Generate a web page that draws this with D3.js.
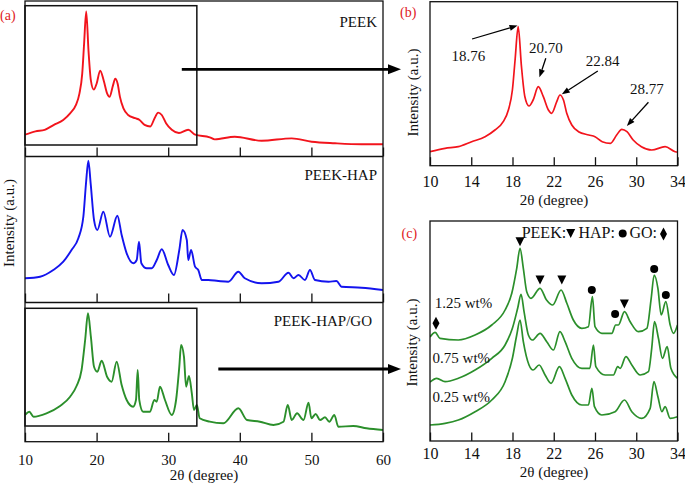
<!DOCTYPE html>
<html><head><meta charset="utf-8">
<script src="https://cdn.jsdelivr.net/npm/d3@7/dist/d3.min.js"></script>
<style>
body{margin:0;background:#fff}
svg{display:block}
</style>
</head><body>
<svg id="c" width="685" height="485"></svg>
<script>
// ---------------- data (2θ in degrees, intensity in arbitrary units) ----------------
const peek = [[10,143],[11.46,177],[12.75,193],[14.04,243],[15.34,293],[16.3,360],[17.1,443],[17.6,560],[17.99,760],[18.25,1060],[18.55,1393],[18.87,993],[19.2,693],[19.6,600],[20.0,660],[20.5,793],[20.99,693],[21.48,560],[21.8,527],[22.29,643],[22.6,710],[22.94,660],[23.26,527],[23.75,410],[24.4,343],[25.4,310],[26.0,293],[26.7,243],[27.5,227],[28.1,310],[28.6,367],[29.1,343],[29.7,260],[30.5,193],[31.5,160],[32.8,193],[33.77,143],[35.8,117],[36.5,96],[39.3,123],[43.06,82],[47.25,106],[50.04,72],[53.3,56],[57.0,46],[60,46]];
const peekHap = [[10,167],[12.1,183],[13.95,250],[15.35,333],[16.5,450],[17.45,567],[18.15,783],[18.52,1117],[18.85,1343],[19.17,1117],[19.64,750],[20.1,650],[20.94,833],[21.87,583],[22.9,793],[23.5,600],[24.2,417],[25.13,317],[25.6,350],[25.92,533],[26.25,317],[27.0,267],[27.7,267],[28.4,350],[29.1,457],[30.0,300],[30.8,200],[31.55,450],[32.0,650],[32.6,550],[32.8,350],[33.2,450],[33.75,283],[34.2,250],[34.7,150],[35.6,150],[37.0,140],[38.4,133],[39.8,233],[40.7,167],[43.06,117],[45.4,133],[46.8,223],[47.5,167],[48.2,200],[49.1,150],[49.8,250],[50.5,150],[52.4,133],[53.5,140],[54.2,83],[57.0,73],[60,50]];
const peekHapGo = [[10,200],[10.6,233],[11.2,183],[13.0,217],[14.9,290],[16.3,383],[17.2,490],[17.9,650],[18.4,950],[18.8,1217],[19.2,983],[19.64,683],[20.1,633],[20.7,743],[21.5,577],[22.1,533],[22.8,733],[23.5,500],[24.2,350],[25.1,283],[25.5,350],[25.74,650],[25.96,350],[26.5,233],[27.46,233],[28.06,350],[28.4,333],[28.85,483],[29.55,350],[30.5,200],[31.1,350],[31.55,683],[31.8,900],[32.2,783],[32.5,483],[32.9,590],[33.3,417],[33.6,250],[34.0,300],[34.4,167],[35.8,133],[37.7,117],[39.8,267],[41.0,150],[42.8,133],[44.7,100],[46.1,133],[46.7,300],[47.25,150],[48.0,217],[48.9,150],[49.6,323],[50.0,167],[50.6,210],[51.2,150],[51.9,177],[52.5,133],[53.2,200],[53.76,83],[55.85,90],[57.7,67],[60,50]];
const go125 = [[10,1040],[10.5,1087],[10.97,1027],[12.75,1010],[14.37,1060],[15.99,1160],[17.28,1310],[17.93,1477],[18.41,1727],[18.73,1927],[19.05,1727],[19.38,1493],[19.8,1427],[20.67,1527],[21.3,1410],[21.9,1360],[22.71,1510],[23.27,1377],[23.9,1210],[24.72,1127],[25.36,1143],[25.75,1443],[26.0,1143],[26.66,1077],[27.63,1077],[28.0,1160],[28.27,1160],[28.86,1293],[29.41,1193],[30.2,1093],[31.03,1127],[31.45,1427],[31.74,1660],[32.1,1527],[32.42,1260],[32.87,1393],[33.29,1160],[33.61,1077],[34.0,1160]];
const go075 = [[10,590],[10.65,627],[11.46,593],[12.75,627],[14.37,710],[15.99,827],[17.28,960],[17.99,1127],[18.5,1327],[18.83,1467],[19.12,1293],[19.54,1060],[19.93,1010],[20.67,1077],[21.32,993],[21.97,910],[22.6,1093],[23.1,993],[23.75,827],[24.72,727],[25.5,727],[25.85,960],[26.08,743],[26.98,660],[27.79,660],[28.2,743],[28.44,727],[29.0,843],[29.57,760],[30.38,660],[31.18,693],[31.5,927],[31.77,1193],[32.15,1027],[32.54,827],[33.0,943],[33.36,727],[34.0,627]];
const go025 = [[10,160],[11.46,177],[12.75,210],[14.37,293],[15.99,410],[17.28,593],[17.99,827],[18.41,1060],[18.73,1210],[19.05,993],[19.6,760],[20.0,710],[20.58,760],[21.16,660],[21.74,577],[22.55,743],[23.1,627],[23.75,460],[24.72,360],[25.36,360],[25.7,527],[25.95,343],[26.66,260],[27.95,293],[28.86,410],[29.57,293],[30.54,227],[31.35,327],[31.71,593],[32.1,443],[32.49,293],[32.8,343],[33.29,227],[34.0,243]];
const ticksA = [10,20,30,40,50,60];
const ticksBC = [10,14,18,22,26,30,34];
const peakLabels = [
  {text:"18.76", tx:13.71, ty:1050, x1:14.08, y1:1270, x2:18.49, y2:1405},
  {text:"20.70", tx:21.24, ty:1133, x1:21.23, y1:1077, x2:20.61, y2:887},
  {text:"22.84", tx:26.74, ty:1003, x1:26.27, y1:950,  x2:22.78, y2:717},
  {text:"28.77", tx:31.03, ty:717,  x1:31.18, y1:637,  x2:29.09, y2:400}
];
const sampleLabels = [["1.25 wt%",10.45,1330],["0.75 wt%",10.25,785],["0.25 wt%",10.25,393]];
const markers = [
  {t:"d",x:10.58,y:1177},{t:"v",x:18.73,y:1993},{t:"v",x:20.67,y:1610},{t:"v",x:22.78,y:1610},
  {t:"o",x:25.69,y:1510},{t:"o",x:27.95,y:1270},{t:"v",x:28.85,y:1370},{t:"o",x:31.74,y:1720},{t:"o",x:32.87,y:1460}
];

// ---------------- drawing ----------------
const RED="#f2141c", BLUE="#1414ee", GREEN="#2b8f2b", RLAB="#e0201e";
const FONT = "'Liberation Serif', 'Times New Roman', Times, 'DejaVu Serif', serif";
const svg = d3.select("#c");
const defs = svg.append("defs");

const triDown = (w,h)=>`M${-w/2},${-h/2}L${w/2},${-h/2}L0,${h/2}Z`;
const diamond = (w,h)=>`M0,${-h/2}L${w/2},0L0,${h/2}L${-w/2},0Z`;

function clip(id,x,y,w,h){defs.append("clipPath").attr("id",id).append("rect").attr("x",x).attr("y",y).attr("width",w).attr("height",h);}
function curve(g,data,x,y,color,id,sw){
  g.append("path").datum(data).attr("clip-path",`url(#${id})`)
   .attr("fill","none").attr("stroke",color).attr("stroke-width",sw).attr("stroke-linejoin","round")
   .attr("d",d3.line().x(d=>x(d[0])).y(d=>y(d[1])).curve(d3.curveMonotoneX));
}
function bigArrow(x1,x2,y){
  svg.append("line").attr("x1",x1).attr("x2",x2-10).attr("y1",y).attr("y2",y).attr("stroke","#000").attr("stroke-width",2.8);
  svg.append("path").attr("d",`M${x2},${y}L${x2-13},${y-5}L${x2-13},${y+5}Z`).attr("fill","#000");
}
function thinArrow(g,x1,y1,x2,y2){
  const a=Math.atan2(y2-y1,x2-x1), L=8, W=3;
  const bx=x2-L*Math.cos(a), by=y2-L*Math.sin(a);
  g.append("line").attr("x1",x1).attr("y1",y1).attr("x2",bx).attr("y2",by).attr("stroke","#000").attr("stroke-width",1.3);
  g.append("path").attr("fill","#000")
   .attr("d",`M${x2},${y2}L${bx+W*Math.sin(a)},${by-W*Math.cos(a)}L${bx-W*Math.sin(a)},${by+W*Math.cos(a)}Z`);
}
function styleAxis(g,fs){
  g.selectAll(".domain").remove();
  g.selectAll(".tick line").attr("stroke","#111").attr("stroke-width",1.3);
  g.selectAll(".tick text").attr("font-size",fs).attr("fill","#111");
}

// ===== panel (a) =====
const ax = d3.scaleLinear().domain([10,60]).range([25,383]);
const rows = [
  {data:peek, color:RED, y:d3.scaleLinear().domain([-78,1499]).range([156.5,1]), name:"PEEK", lx:377, ly:27},
  {data:peekHap, color:BLUE, y:d3.scaleLinear().domain([-75,1385]).range([302.5,156.5]), name:"PEEK-HAP", lx:377, ly:180},
  {data:peekHapGo, color:GREEN, y:d3.scaleLinear().domain([-67,1325]).range([441.7,302.5]), name:"PEEK-HAP/GO", lx:372, ly:326}
];
const gA = svg.append("g");
rows.forEach((r,i)=>{
  const [yb,yt]=r.y.range();
  clip("ca"+i,ax(10),yt,ax(60)-ax(10),yb-yt);
  curve(gA,r.data,ax,r.y,r.color,"ca"+i,1.9);
  const axis=d3.axisBottom(ax).tickValues(ticksA).tickSizeInner(-9).tickSizeOuter(0).tickPadding(12.6);
  if(i<2) axis.tickFormat("");
  const g=gA.append("g").attr("transform",`translate(0,${yb})`).call(axis);
  styleAxis(g,15);
  gA.append("text").attr("x",r.lx).attr("y",r.ly).attr("text-anchor","end").attr("font-size",15).text(r.name);
});
gA.append("line").attr("x1",25).attr("x2",383).attr("y1",156.5).attr("y2",156.5).attr("stroke","#111").attr("stroke-width",1.3);
gA.append("line").attr("x1",25).attr("x2",383).attr("y1",302.5).attr("y2",302.5).attr("stroke","#111").attr("stroke-width",1.3);
gA.append("rect").attr("x",25).attr("y",1).attr("width",358).attr("height",440.7).attr("fill","none").attr("stroke","#111").attr("stroke-width",1.3);
gA.append("rect").attr("x",ax(10)).attr("y",5.7).attr("width",ax(34)-ax(10)).attr("height",139.3).attr("fill","none").attr("stroke","#111").attr("stroke-width",1.5);
gA.append("rect").attr("x",ax(10)).attr("y",308.3).attr("width",ax(34)-ax(10)).attr("height",117.7).attr("fill","none").attr("stroke","#111").attr("stroke-width",1.5);
gA.append("text").attr("x",ax(35)).attr("y",480).attr("text-anchor","middle").attr("font-size",15).text("2θ (degree)");
gA.append("text").attr("transform","translate(13.5,223) rotate(-90)").attr("text-anchor","middle").attr("font-size",15).text("Intensity (a.u.)");
svg.append("text").attr("x",0).attr("y",20).attr("font-size",14).attr("class","red").text("(a)");

// ===== panel (b) =====
const bx = d3.scaleLinear().domain([10,34]).range([430,677.5]);
const by = d3.scaleLinear().domain([0,1640]).range([166,2]);
const gB = svg.append("g");
clip("cb",430,1.7,247.5,164);
curve(gB,peek,bx,by,RED,"cb",1.7);
const axB=gB.append("g").attr("transform","translate(0,165.7)")
  .call(d3.axisBottom(bx).tickValues(ticksBC).tickSizeInner(-8.5).tickSizeOuter(0).tickPadding(10.2));
styleAxis(axB,16);
gB.append("rect").attr("x",430).attr("y",1.7).attr("width",247.5).attr("height",164).attr("fill","none").attr("stroke","#111").attr("stroke-width",1.3);
peakLabels.forEach(p=>{
  gB.append("text").attr("x",bx(p.tx)).attr("y",by(p.ty)).attr("text-anchor","middle").attr("font-size",15).text(p.text);
  thinArrow(gB,bx(p.x1),by(p.y1),bx(p.x2),by(p.y2));
});
gB.append("text").attr("x",554).attr("y",205).attr("text-anchor","middle").attr("font-size",15).text("2θ (degree)");
gB.append("text").attr("transform","translate(417.5,92.5) rotate(-90)").attr("text-anchor","middle").attr("font-size",15).text("Intensity (a.u.)");
svg.append("text").attr("x",400).attr("y",17).attr("font-size",14).attr("class","red").text("(b)");

// ===== panel (c) =====
const cx = d3.scaleLinear().domain([10,34]).range([430,677.5]);
const cy = d3.scaleLinear().domain([0,2200]).range([441,221]);
const gC = svg.append("g");
clip("cc",430,221,247.5,220);
[go125,go075,go025].forEach(s=>curve(gC,s,cx,cy,GREEN,"cc",1.7));
const axC=gC.append("g").attr("transform","translate(0,441)")
  .call(d3.axisBottom(cx).tickValues(ticksBC).tickSizeInner(-8.5).tickSizeOuter(0).tickPadding(6.2));
styleAxis(axC,16);
gC.append("rect").attr("x",430).attr("y",221).attr("width",247.5).attr("height",220).attr("fill","none").attr("stroke","#111").attr("stroke-width",1.3);
sampleLabels.forEach(s=>gC.append("text").attr("x",cx(s[1])).attr("y",cy(s[2])).attr("font-size",15).text(s[0]));
function marker(g,t,x,y){
  if(t==="v") g.append("path").attr("d",triDown(9,9)).attr("transform",`translate(${x},${y})`).attr("fill","#000");
  else if(t==="o") g.append("circle").attr("cx",x).attr("cy",y).attr("r",4).attr("fill","#000");
  else g.append("path").attr("d",diamond(7,13)).attr("transform",`translate(${x},${y})`).attr("fill","#000");
}
markers.forEach(m=>marker(gC,m.t,cx(m.x),cy(m.y)));
gC.append("text").attr("x",521.7).attr("y",238).attr("font-size",16).text("PEEK:");
marker(gC,"v",570.7,233.5);
gC.append("text").attr("x",578.5).attr("y",238).attr("font-size",16).text("HAP:");
marker(gC,"o",622.7,233.5);
gC.append("text").attr("x",629.5).attr("y",238).attr("font-size",16).text("GO:");
marker(gC,"d",663.5,234);
gC.append("text").attr("x",554).attr("y",477).attr("text-anchor","middle").attr("font-size",15).text("2θ (degree)");
gC.append("text").attr("transform","translate(416.5,342.5) rotate(-90)").attr("text-anchor","middle").attr("font-size",15).text("Intensity (a.u.)");
svg.append("text").attr("x",401.5).attr("y",238).attr("font-size",14).attr("class","red").text("(c)");

bigArrow(ax(31.9), 401, rows[0].y(806));
bigArrow(ax(37.0), 401, rows[2].y(660));

// fonts / colours for every text
svg.selectAll("text").style("font-family",FONT).style("fill","#111");
svg.selectAll("text.red").style("fill",RLAB);
</script>
</body></html>
